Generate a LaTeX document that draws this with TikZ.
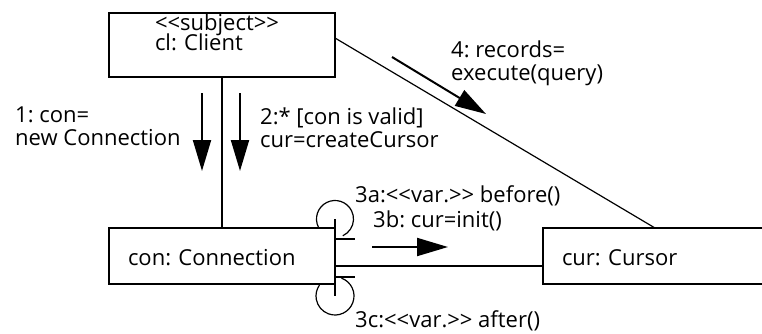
\documentclass[tikz,border=0pt]{standalone}
\usepackage{fontspec}
\setmainfont{Open Sans}
\usetikzlibrary{arrows.meta}
\frenchspacing

\begin{document}
\begin{tikzpicture}[
  x=1pt, y=1pt,
  objbox/.style={rectangle, draw, line width=2.2pt, outer sep=0pt, inner ysep=0pt, align=left, font=\fontsize{22}{23}\selectfont},
  lbl/.style={anchor=base west, inner sep=0pt, align=left, font=\fontsize{22}{23}\selectfont},
  msg/.style={line width=2pt, -{Triangle[length=31pt, width=18pt]}},
  link/.style={line width=2pt},
  node distance=211pt
]
\clip (0,0) rectangle (762,333);
\node[objbox, inner xsep=46pt, text width=134pt, text height=17pt, text depth=47pt] (client) at (222,288) {<{}<subject>{}>\\[-3pt]cl: Client};
\node[objbox, inner xsep=19pt, text width=188pt, text height=37pt, text depth=19pt, below of=client] (con) {con: Connection};
\node[objbox, inner xsep=19pt, text width=200pt, text height=37pt, text depth=19pt, right of=con, node distance=440pt] (cur) {cur: Cursor};

\draw[link] (client) -- (con);
\draw[link] ([yshift=-10pt]con.east) -- ([yshift=-10pt]cur.west);
\draw[line width=1.2pt] ([yshift=7pt]client.east) -- ([xshift=112pt]cur.north west);

\draw[line width=2.2pt] ([yshift=9pt]con.north east) -- ([yshift=-12pt]con.south east);
\draw[link] ([yshift=-11pt]con.north east) -- ++(20pt,0);
\draw[link] ([yshift=7pt]con.south east) -- ++(20pt,0);
\draw[line width=1.2pt] ([yshift=9pt]con.north east) ++(207:18.5pt) arc[start angle=207, end angle=-65, radius=18.5pt];
\draw[line width=1.2pt] ([yshift=-12pt]con.south east) ++(70:19pt) arc[start angle=70, end angle=-215, radius=19pt];

\coordinate (m1a) at (202,240);
\coordinate (m1b) at (202,162);
\coordinate (m2a) at (240,240);
\coordinate (m2b) at (240,162);
\coordinate (m3a) at (372,86);
\coordinate (m3b) at (448,86);
\coordinate (m4a) at (392,276);
\coordinate (m4b) at (486,219);
\draw[msg] (m1a) -- (m1b);
\draw[msg] (m2a) -- (m2b);
\draw[msg] (m3a) -- (m3b);
\draw[msg] (m4a) -- (m4b);

\node[lbl] (l1) at (15,188) {1: con=\\new Connection};
\node[lbl] (l2) at (260,186) {2:* [con is valid]\\cur=createCursor};
\node[lbl] (l4) at (451,253) {4: records=\\execute(query)};
\node[lbl] (l3a) at (355,131) {3a:<{}<var.>{}> before()};
\node[lbl] (l3b) at (373,106) {3b: cur=init()};
\node[lbl] (l3c) at (355,6) {3c:<{}<var.>{}> after()};
\end{tikzpicture}
\end{document}
